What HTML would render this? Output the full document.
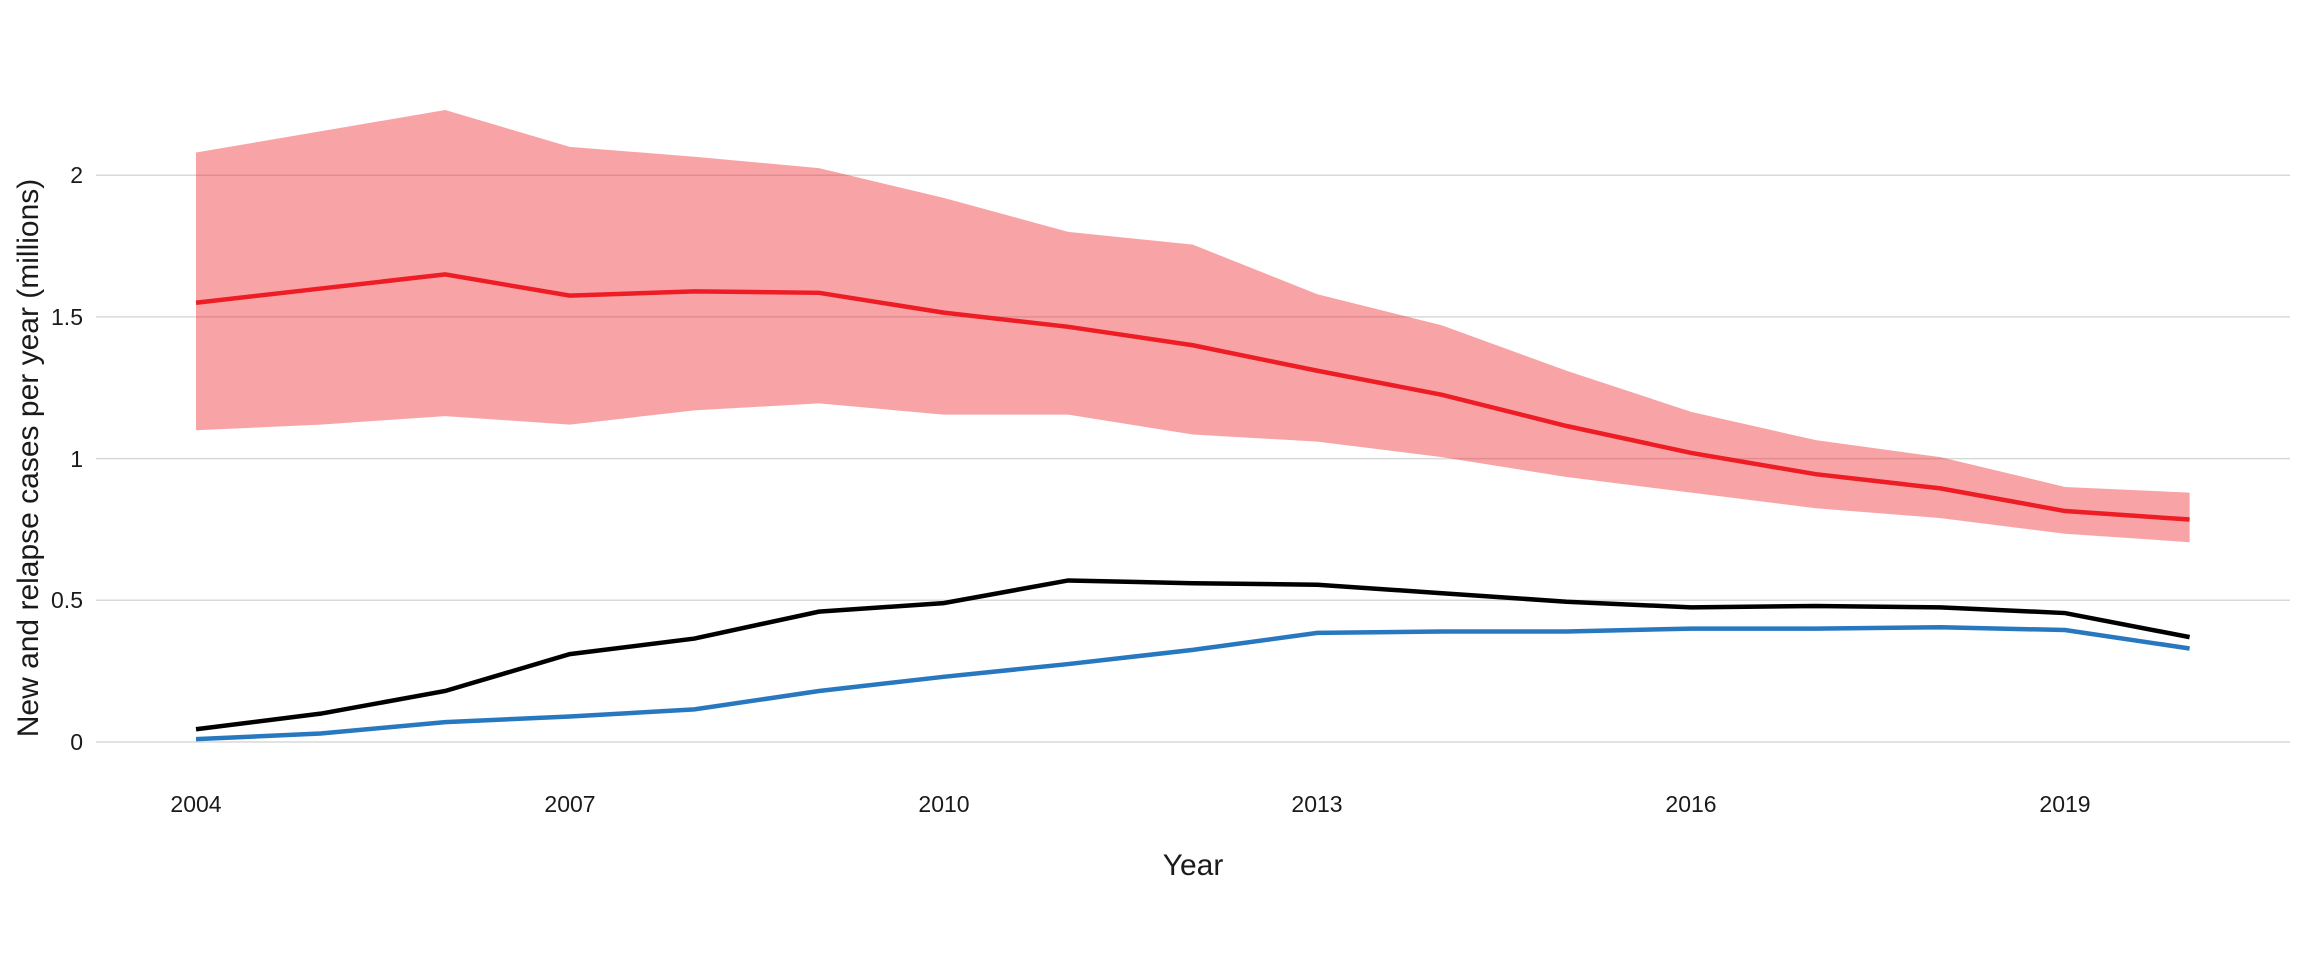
<!DOCTYPE html>
<html><head><meta charset="utf-8"><style>
html,body{margin:0;padding:0;background:#fff;}
svg{display:block;}
text{font-family:"Liberation Sans",Arial,sans-serif;fill:#1a1a1a;}
</style></head><body>
<svg width="2304" height="960" viewBox="0 0 2304 960" xmlns="http://www.w3.org/2000/svg">
<rect width="2304" height="960" fill="#fff"/>
<g stroke="#d9d9d9" stroke-width="1.5">
<line x1="96" x2="2290" y1="742" y2="742"/>
<line x1="96" x2="2290" y1="600.3" y2="600.3"/>
<line x1="96" x2="2290" y1="458.6" y2="458.6"/>
<line x1="96" x2="2290" y1="316.9" y2="316.9"/>
<line x1="96" x2="2290" y1="175.2" y2="175.2"/>
</g>
<g transform="translate(196,742) scale(124.6,-283.4)">
<polygon fill="#ed1c24" fill-opacity="0.4" points="0,2.08 1,2.155 2,2.23 3,2.10 4,2.065 5,2.025 6,1.92 7,1.80 8,1.755 9,1.58 10,1.47 11,1.31 12,1.165 13,1.065 14,1.005 15,0.9 16,0.88 16,0.705 15,0.735 14,0.79 13,0.825 12,0.88 11,0.935 10,1.005 9,1.06 8,1.085 7,1.155 6,1.155 5,1.195 4,1.17 3,1.12 2,1.15 1,1.12 0,1.10"/>
<polyline fill="none" stroke="#ee1c25" stroke-width="4.5" vector-effect="non-scaling-stroke" points="0,1.55 1,1.60 2,1.65 3,1.575 4,1.59 5,1.585 6,1.515 7,1.465 8,1.40 9,1.31 10,1.225 11,1.115 12,1.02 13,0.945 14,0.895 15,0.815 16,0.785"/>
<polyline fill="none" stroke="#000" stroke-width="4.5" vector-effect="non-scaling-stroke" points="0,0.045 1,0.10 2,0.18 3,0.31 4,0.365 5,0.46 6,0.49 7,0.57 8,0.56 9,0.555 10,0.525 11,0.495 12,0.475 13,0.48 14,0.475 15,0.455 16,0.37"/>
<polyline fill="none" stroke="#2878c0" stroke-width="4.5" vector-effect="non-scaling-stroke" points="0,0.01 1,0.03 2,0.07 3,0.09 4,0.115 5,0.18 6,0.23 7,0.275 8,0.325 9,0.385 10,0.39 11,0.39 12,0.40 13,0.40 14,0.405 15,0.395 16,0.33"/>
</g>
<g font-size="23" text-anchor="end">
<text x="83" y="750">0</text>
<text x="83" y="608">0.5</text>
<text x="83" y="467">1</text>
<text x="83" y="325">1.5</text>
<text x="83" y="183">2</text>
</g>
<g font-size="23" text-anchor="middle">
<text x="196" y="812">2004</text>
<text x="570" y="812">2007</text>
<text x="944" y="812">2010</text>
<text x="1317" y="812">2013</text>
<text x="1691" y="812">2016</text>
<text x="2065" y="812">2019</text>
</g>
<text x="1193" y="875" font-size="30" text-anchor="middle">Year</text>
<text transform="translate(38,458) rotate(-90)" font-size="30" text-anchor="middle">New and relapse cases per year (millions)</text>
</svg>
</body></html>
